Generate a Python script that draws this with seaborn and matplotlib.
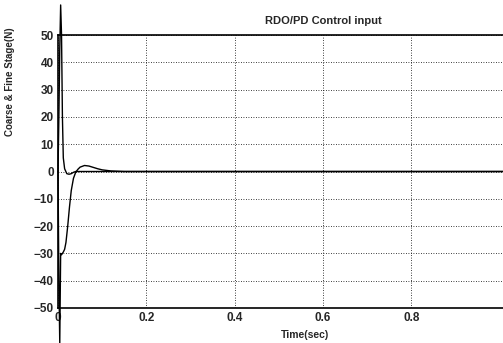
import numpy as np
import pandas as pd
import matplotlib
matplotlib.use("Agg")
import matplotlib.pyplot as plt
import seaborn as sns

# Data
time_fine = [0.0, 0.002, 0.004, 0.006, 0.008, 0.010, 0.012, 0.015, 0.020, 0.025, 0.030, 0.035, 0.040, 0.050, 0.060, 0.080, 0.100, 1.2]
force_fine = [0.0, 20.0, 45.0, 61.0, 50.0, 20.0, 5.0, 1.0, -0.8, -1.0, -0.8, -0.3, 0.0, 0.0, 0.0, 0.0, 0.0, 0.0]

time_coarse = [0.0, 0.002, 0.004, 0.006, 0.008, 0.010, 0.012, 0.015, 0.018, 0.022, 0.026, 0.030, 0.035, 0.040, 0.045, 0.050, 0.060, 0.070, 0.080, 0.090, 0.100, 0.120, 0.150, 0.200, 1.2]
force_coarse = [0.0, -40.0, -63.0, -30.0, -30.5, -30.0, -29.5, -28.5, -26.0, -20.0, -13.0, -7.0, -2.5, -0.3, 0.8, 1.6, 2.2, 2.0, 1.5, 1.0, 0.6, 0.2, 0.0, 0.0, 0.0]

x_ticks = [0, 0.2, 0.4, 0.6, 0.8]
x_tick_labels = ["0", "0.2", "0.4", "0.6", "0.8"]
y_ticks = [-50, -40, -30, -20, -10, 0, 10, 20, 30, 40, 50]

df = pd.concat([
    pd.DataFrame({"t": time_fine, "f": force_fine, "s": "fine"}),
    pd.DataFrame({"t": time_coarse, "f": force_coarse, "s": "coarse"}),
])

sns.set_style("white")
plt.rcParams['font.family'] = ['Liberation Sans', 'DejaVu Sans']

fig = plt.figure(figsize=(5.03, 3.43), dpi=100)
ax = fig.add_axes([58/503, 35/343, 530/503, 273/343])

sns.lineplot(data=df, x="t", y="f", units="s", estimator=None, sort=False,
             color="black", lw=1.0, ax=ax, legend=False)
for ln in ax.get_lines():
    ln.set_clip_on(False)

ax.set_xlim(0, 1.2)
ax.set_ylim(-50, 50)
ax.set_xticks(x_ticks)
ax.set_xticklabels(x_tick_labels)
ax.set_yticks(y_ticks)
ax.tick_params(axis="both", labelsize=8.5, length=0, pad=3)
for lab in ax.get_xticklabels() + ax.get_yticklabels():
    lab.set_fontweight("bold")

ax.grid(True, color="black", linestyle=(0, (1, 2)), linewidth=0.6)
for sp in ax.spines.values():
    sp.set_color("black")
    sp.set_linewidth(1.2)

ax.set_title("RDO/PD Control input", fontsize=8, fontweight="bold", pad=8)
ax.set_xlabel("Time(sec)", fontsize=7.5, fontweight="bold")
ax.xaxis.set_label_coords((305-58)/530, -0.08)
ax.set_ylabel("Coarse & Fine Stage(N)", fontsize=7, fontweight="bold")
ax.yaxis.set_label_coords(-(58-15)/530, (308-82)/273)

fig.savefig("out.png", dpi=100)
